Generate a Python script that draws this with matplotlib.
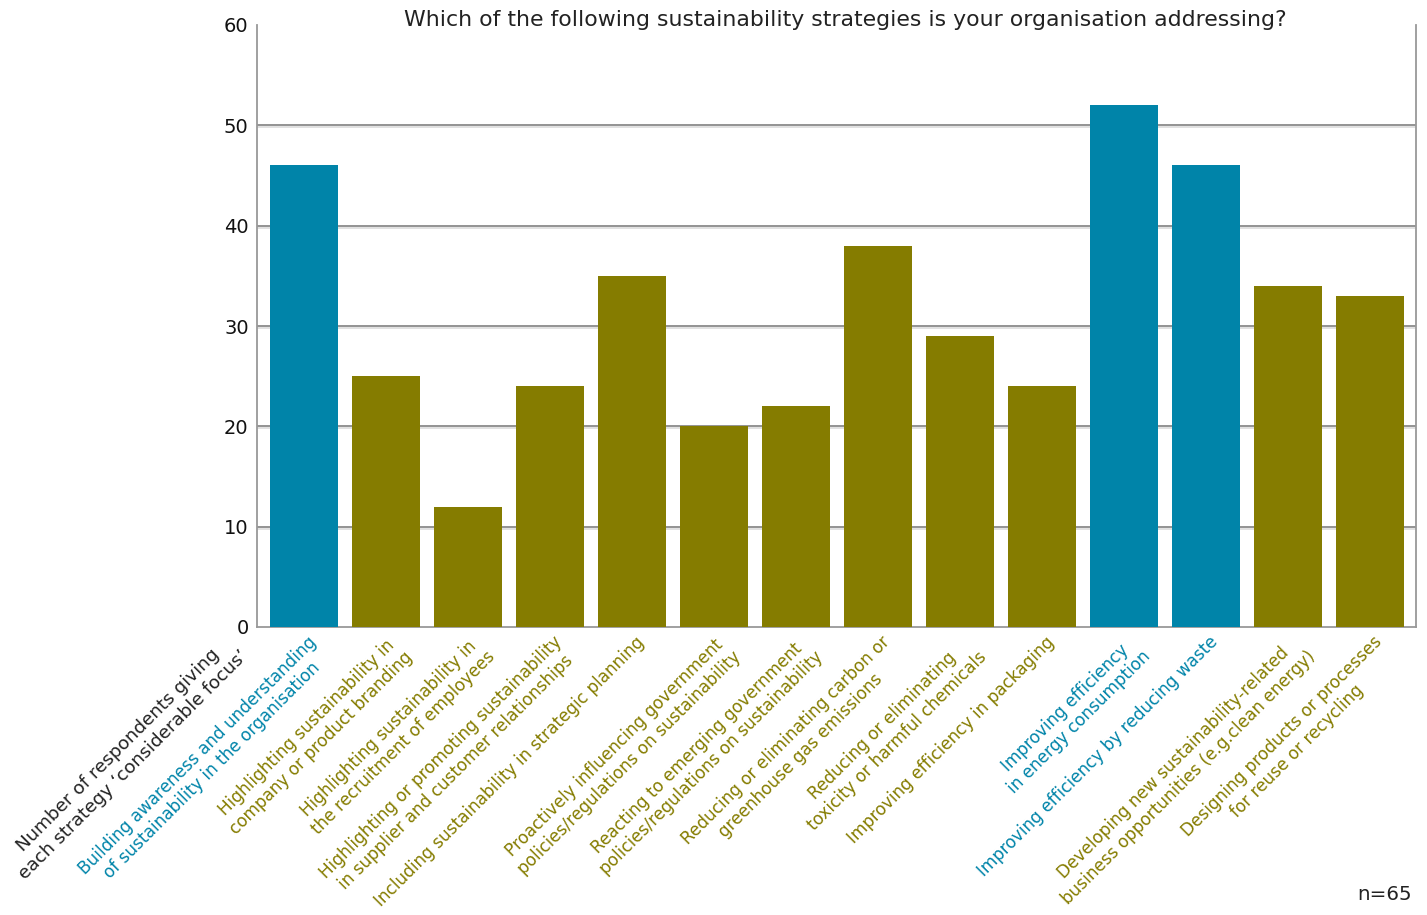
import matplotlib
matplotlib.use("Agg")
import matplotlib.pyplot as plt
import matplotlib.transforms as mtransforms

categories = [
    "Building awareness and understanding\nof sustainability in the organisation",
    "Highlighting sustainability in\ncompany or product branding",
    "Highlighting sustainability in\nthe recruitment of employees",
    "Highlighting or promoting sustainability\nin supplier and customer relationships",
    "Including sustainability in strategic planning",
    "Proactively influencing government\npolicies/regulations on sustainability",
    "Reacting to emerging government\npolicies/regulations on sustainability",
    "Reducing or eliminating carbon or\ngreenhouse gas emissions",
    "Reducing or eliminating\ntoxicity or harmful chemicals",
    "Improving efficiency in packaging",
    "Improving efficiency\nin energy consumption",
    "Improving efficiency by reducing waste",
    "Developing new sustainability-related\nbusiness opportunities (e.g.clean energy)",
    "Designing products or processes\nfor reuse or recycling",
]
values = [46, 25, 12, 24, 35, 20, 22, 38, 29, 24, 52, 46, 34, 33]
highlight = [True, False, False, False, False, False, False, False, False, False, True, True, False, False]
yticks = [0, 10, 20, 30, 40, 50, 60]

BLUE = "#0084A9"
OLIVE = "#857C00"
colors = [BLUE if h else OLIVE for h in highlight]

fig = plt.figure(figsize=(14.27, 9.15), dpi=100)
ax = fig.add_axes([257/1427, 1-627/915, (1416-257)/1427, (627-25)/915])

x = list(range(len(values)))
ax.bar(x, values, width=0.83, color=colors, zorder=3)
ax.set_xlim(-0.573, 13.56)
ax.set_ylim(0, 60)

for g in yticks[1:-1]:
    ax.axhline(g, color="#8a8a8a", lw=1.3, zorder=1)
    ax.axhline(g - 0.2, color="#dcdcdc", lw=1.2, zorder=0.9)

ax.set_yticks(yticks)
ax.set_yticklabels([str(t) for t in yticks], fontsize=14, color="#111111")
ax.tick_params(axis="y", length=0, pad=6)
ax.set_xticks([])
for s in ["left", "right", "bottom"]:
    ax.spines[s].set_color("#999999")
    ax.spines[s].set_linewidth(1.3)
ax.spines["top"].set_visible(False)

offset = mtransforms.ScaledTranslation(3/100, -6/100, fig.dpi_scale_trans)
trans = mtransforms.blended_transform_factory(ax.transData, ax.transAxes) + offset
for xi, lab, c in zip(x, categories, colors):
    ax.text(xi, 0, lab, transform=trans, rotation=45, rotation_mode="anchor",
            ha="right", va="top", multialignment="center", fontsize=12.2, color=c)

fig.text(224/1427, 1-632/915, "Number of respondents giving\neach strategy \u2018considerable focus\u2019",
         rotation=45, rotation_mode="anchor", ha="right", va="top",
         multialignment="center", fontsize=13.2, color="#222222")

fig.text(845/1427, 1-20/915,
         "Which of the following sustainability strategies is your organisation addressing?",
         ha="center", va="center", fontsize=15.8, color="#222222")

fig.text(1412/1427, 1-895/915, "n=65", ha="right", va="center", fontsize=14.3, color="#222222")

fig.savefig("out.png", dpi=100)
